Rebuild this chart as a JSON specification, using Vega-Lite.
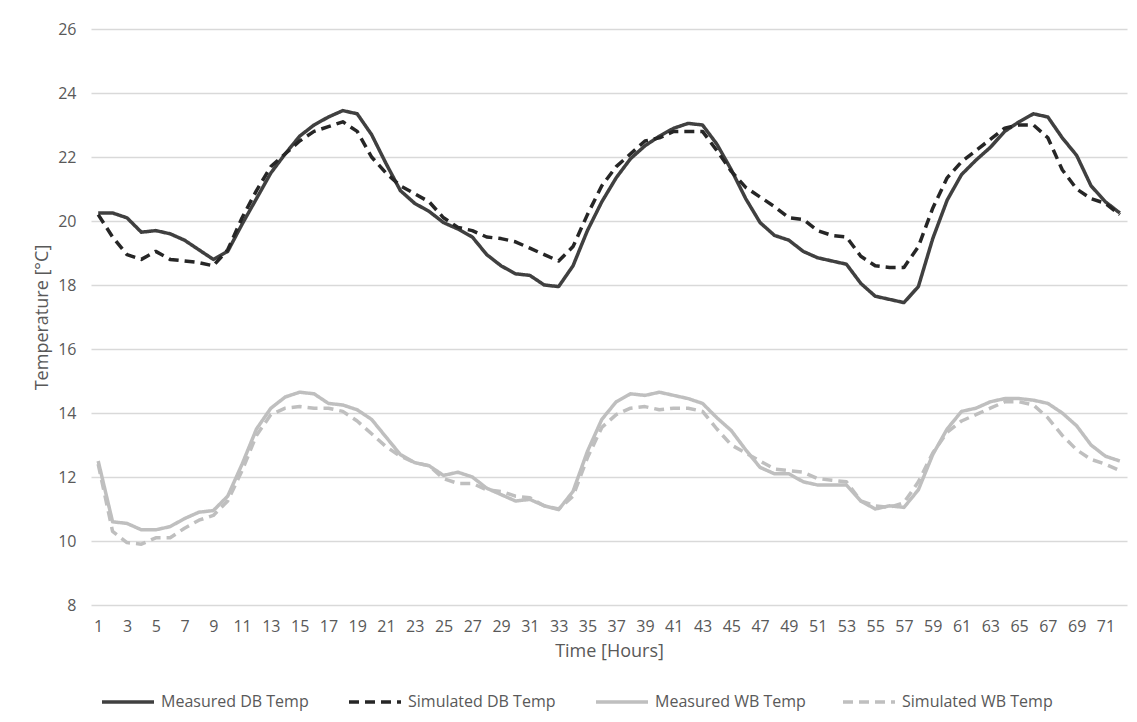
{
  "$schema": "https://vega.github.io/schema/vega-lite/v6.json",
  "width": 1036,
  "height": 576,
  "autosize": {"type": "none"},
  "padding": {"left": 91, "top": 29, "right": 10, "bottom": 117},
  "background": "white",
  "config": {
    "view": {"stroke": null},
    "font": "Open Sans",
    "axis": {"labelFont": "Open Sans", "titleFont": "Open Sans", "labelColor": "#595959", "titleColor": "#595959", "labelFontSize": 16, "titleFontSize": 18, "titleFontWeight": "normal", "ticks": false, "domain": false, "gridColor": "#d9d9d9", "gridWidth": 1.3},
    "legend": {"labelFont": "Open Sans", "labelFontSize": 16, "labelColor": "#595959", "orient": "none", "legendX": 9, "legendY": 645, "direction": "horizontal", "columns": 4, "gridAlign": "all", "columnPadding": 30, "symbolType": "stroke", "symbolSize": 2704, "symbolStrokeWidth": 3.5, "labelOffset": 5}
  },
  "data": {"values": [
    {"hour": 1, "Measured DB Temp": 20.25, "Simulated DB Temp": 20.2, "Measured WB Temp": 12.5, "Simulated WB Temp": 12.4},
    {"hour": 2, "Measured DB Temp": 20.25, "Simulated DB Temp": 19.5, "Measured WB Temp": 10.6, "Simulated WB Temp": 10.3},
    {"hour": 3, "Measured DB Temp": 20.1, "Simulated DB Temp": 18.95, "Measured WB Temp": 10.55, "Simulated WB Temp": 9.95},
    {"hour": 4, "Measured DB Temp": 19.65, "Simulated DB Temp": 18.8, "Measured WB Temp": 10.35, "Simulated WB Temp": 9.9},
    {"hour": 5, "Measured DB Temp": 19.7, "Simulated DB Temp": 19.05, "Measured WB Temp": 10.35, "Simulated WB Temp": 10.1},
    {"hour": 6, "Measured DB Temp": 19.6, "Simulated DB Temp": 18.8, "Measured WB Temp": 10.45, "Simulated WB Temp": 10.1},
    {"hour": 7, "Measured DB Temp": 19.4, "Simulated DB Temp": 18.75, "Measured WB Temp": 10.7, "Simulated WB Temp": 10.4},
    {"hour": 8, "Measured DB Temp": 19.1, "Simulated DB Temp": 18.7, "Measured WB Temp": 10.9, "Simulated WB Temp": 10.65},
    {"hour": 9, "Measured DB Temp": 18.8, "Simulated DB Temp": 18.6, "Measured WB Temp": 10.95, "Simulated WB Temp": 10.8},
    {"hour": 10, "Measured DB Temp": 19.05, "Simulated DB Temp": 19.1, "Measured WB Temp": 11.4, "Simulated WB Temp": 11.25},
    {"hour": 11, "Measured DB Temp": 19.9, "Simulated DB Temp": 20.1, "Measured WB Temp": 12.4, "Simulated WB Temp": 12.2},
    {"hour": 12, "Measured DB Temp": 20.7, "Simulated DB Temp": 20.95, "Measured WB Temp": 13.5, "Simulated WB Temp": 13.3},
    {"hour": 13, "Measured DB Temp": 21.5, "Simulated DB Temp": 21.7, "Measured WB Temp": 14.15, "Simulated WB Temp": 13.95},
    {"hour": 14, "Measured DB Temp": 22.1, "Simulated DB Temp": 22.1, "Measured WB Temp": 14.5, "Simulated WB Temp": 14.15},
    {"hour": 15, "Measured DB Temp": 22.65, "Simulated DB Temp": 22.5, "Measured WB Temp": 14.65, "Simulated WB Temp": 14.2},
    {"hour": 16, "Measured DB Temp": 23.0, "Simulated DB Temp": 22.8, "Measured WB Temp": 14.6, "Simulated WB Temp": 14.15},
    {"hour": 17, "Measured DB Temp": 23.25, "Simulated DB Temp": 22.95, "Measured WB Temp": 14.3, "Simulated WB Temp": 14.15},
    {"hour": 18, "Measured DB Temp": 23.45, "Simulated DB Temp": 23.1, "Measured WB Temp": 14.25, "Simulated WB Temp": 14.05},
    {"hour": 19, "Measured DB Temp": 23.35, "Simulated DB Temp": 22.8, "Measured WB Temp": 14.1, "Simulated WB Temp": 13.75},
    {"hour": 20, "Measured DB Temp": 22.7, "Simulated DB Temp": 22.0, "Measured WB Temp": 13.8, "Simulated WB Temp": 13.35},
    {"hour": 21, "Measured DB Temp": 21.8, "Simulated DB Temp": 21.5, "Measured WB Temp": 13.25, "Simulated WB Temp": 12.95},
    {"hour": 22, "Measured DB Temp": 20.95, "Simulated DB Temp": 21.1, "Measured WB Temp": 12.7, "Simulated WB Temp": 12.65},
    {"hour": 23, "Measured DB Temp": 20.55, "Simulated DB Temp": 20.85, "Measured WB Temp": 12.45, "Simulated WB Temp": 12.45},
    {"hour": 24, "Measured DB Temp": 20.3, "Simulated DB Temp": 20.6, "Measured WB Temp": 12.35, "Simulated WB Temp": 12.35},
    {"hour": 25, "Measured DB Temp": 19.95, "Simulated DB Temp": 20.1, "Measured WB Temp": 12.05, "Simulated WB Temp": 11.95},
    {"hour": 26, "Measured DB Temp": 19.75, "Simulated DB Temp": 19.8, "Measured WB Temp": 12.15, "Simulated WB Temp": 11.8},
    {"hour": 27, "Measured DB Temp": 19.5, "Simulated DB Temp": 19.7, "Measured WB Temp": 12.0, "Simulated WB Temp": 11.8},
    {"hour": 28, "Measured DB Temp": 18.95, "Simulated DB Temp": 19.5, "Measured WB Temp": 11.65, "Simulated WB Temp": 11.6},
    {"hour": 29, "Measured DB Temp": 18.6, "Simulated DB Temp": 19.45, "Measured WB Temp": 11.45, "Simulated WB Temp": 11.55},
    {"hour": 30, "Measured DB Temp": 18.35, "Simulated DB Temp": 19.35, "Measured WB Temp": 11.25, "Simulated WB Temp": 11.4},
    {"hour": 31, "Measured DB Temp": 18.3, "Simulated DB Temp": 19.15, "Measured WB Temp": 11.3, "Simulated WB Temp": 11.35},
    {"hour": 32, "Measured DB Temp": 18.0, "Simulated DB Temp": 18.95, "Measured WB Temp": 11.1, "Simulated WB Temp": 11.1},
    {"hour": 33, "Measured DB Temp": 17.95, "Simulated DB Temp": 18.75, "Measured WB Temp": 10.98, "Simulated WB Temp": 11.0},
    {"hour": 34, "Measured DB Temp": 18.6, "Simulated DB Temp": 19.2, "Measured WB Temp": 11.55, "Simulated WB Temp": 11.4},
    {"hour": 35, "Measured DB Temp": 19.7, "Simulated DB Temp": 20.2, "Measured WB Temp": 12.8, "Simulated WB Temp": 12.6},
    {"hour": 36, "Measured DB Temp": 20.6, "Simulated DB Temp": 21.1, "Measured WB Temp": 13.8, "Simulated WB Temp": 13.55},
    {"hour": 37, "Measured DB Temp": 21.35, "Simulated DB Temp": 21.7, "Measured WB Temp": 14.35, "Simulated WB Temp": 13.95},
    {"hour": 38, "Measured DB Temp": 21.95, "Simulated DB Temp": 22.1, "Measured WB Temp": 14.6, "Simulated WB Temp": 14.15},
    {"hour": 39, "Measured DB Temp": 22.35, "Simulated DB Temp": 22.5, "Measured WB Temp": 14.55, "Simulated WB Temp": 14.2},
    {"hour": 40, "Measured DB Temp": 22.65, "Simulated DB Temp": 22.6, "Measured WB Temp": 14.65, "Simulated WB Temp": 14.1},
    {"hour": 41, "Measured DB Temp": 22.9, "Simulated DB Temp": 22.8, "Measured WB Temp": 14.55, "Simulated WB Temp": 14.15},
    {"hour": 42, "Measured DB Temp": 23.05, "Simulated DB Temp": 22.8, "Measured WB Temp": 14.45, "Simulated WB Temp": 14.15},
    {"hour": 43, "Measured DB Temp": 23.0, "Simulated DB Temp": 22.8, "Measured WB Temp": 14.3, "Simulated WB Temp": 14.05},
    {"hour": 44, "Measured DB Temp": 22.4, "Simulated DB Temp": 22.2, "Measured WB Temp": 13.85, "Simulated WB Temp": 13.5},
    {"hour": 45, "Measured DB Temp": 21.6, "Simulated DB Temp": 21.55, "Measured WB Temp": 13.45, "Simulated WB Temp": 13.0},
    {"hour": 46, "Measured DB Temp": 20.7, "Simulated DB Temp": 21.05, "Measured WB Temp": 12.85, "Simulated WB Temp": 12.75},
    {"hour": 47, "Measured DB Temp": 19.95, "Simulated DB Temp": 20.75, "Measured WB Temp": 12.3, "Simulated WB Temp": 12.5},
    {"hour": 48, "Measured DB Temp": 19.55, "Simulated DB Temp": 20.45, "Measured WB Temp": 12.1, "Simulated WB Temp": 12.25},
    {"hour": 49, "Measured DB Temp": 19.4, "Simulated DB Temp": 20.1, "Measured WB Temp": 12.1, "Simulated WB Temp": 12.2},
    {"hour": 50, "Measured DB Temp": 19.05, "Simulated DB Temp": 20.05, "Measured WB Temp": 11.85, "Simulated WB Temp": 12.15},
    {"hour": 51, "Measured DB Temp": 18.85, "Simulated DB Temp": 19.7, "Measured WB Temp": 11.75, "Simulated WB Temp": 11.95},
    {"hour": 52, "Measured DB Temp": 18.75, "Simulated DB Temp": 19.55, "Measured WB Temp": 11.75, "Simulated WB Temp": 11.9},
    {"hour": 53, "Measured DB Temp": 18.65, "Simulated DB Temp": 19.5, "Measured WB Temp": 11.75, "Simulated WB Temp": 11.85},
    {"hour": 54, "Measured DB Temp": 18.05, "Simulated DB Temp": 18.9, "Measured WB Temp": 11.25, "Simulated WB Temp": 11.25},
    {"hour": 55, "Measured DB Temp": 17.65, "Simulated DB Temp": 18.6, "Measured WB Temp": 11.0, "Simulated WB Temp": 11.1},
    {"hour": 56, "Measured DB Temp": 17.55, "Simulated DB Temp": 18.55, "Measured WB Temp": 11.1, "Simulated WB Temp": 11.05},
    {"hour": 57, "Measured DB Temp": 17.45, "Simulated DB Temp": 18.55, "Measured WB Temp": 11.05, "Simulated WB Temp": 11.2},
    {"hour": 58, "Measured DB Temp": 17.95, "Simulated DB Temp": 19.2, "Measured WB Temp": 11.6, "Simulated WB Temp": 11.85},
    {"hour": 59, "Measured DB Temp": 19.45, "Simulated DB Temp": 20.4, "Measured WB Temp": 12.7, "Simulated WB Temp": 12.75},
    {"hour": 60, "Measured DB Temp": 20.65, "Simulated DB Temp": 21.35, "Measured WB Temp": 13.5, "Simulated WB Temp": 13.4},
    {"hour": 61, "Measured DB Temp": 21.45, "Simulated DB Temp": 21.85, "Measured WB Temp": 14.05, "Simulated WB Temp": 13.75},
    {"hour": 62, "Measured DB Temp": 21.9, "Simulated DB Temp": 22.2, "Measured WB Temp": 14.15, "Simulated WB Temp": 13.95},
    {"hour": 63, "Measured DB Temp": 22.3, "Simulated DB Temp": 22.55, "Measured WB Temp": 14.35, "Simulated WB Temp": 14.15},
    {"hour": 64, "Measured DB Temp": 22.8, "Simulated DB Temp": 22.9, "Measured WB Temp": 14.45, "Simulated WB Temp": 14.35},
    {"hour": 65, "Measured DB Temp": 23.1, "Simulated DB Temp": 23.0, "Measured WB Temp": 14.45, "Simulated WB Temp": 14.35},
    {"hour": 66, "Measured DB Temp": 23.35, "Simulated DB Temp": 23.0, "Measured WB Temp": 14.4, "Simulated WB Temp": 14.25},
    {"hour": 67, "Measured DB Temp": 23.25, "Simulated DB Temp": 22.6, "Measured WB Temp": 14.3, "Simulated WB Temp": 13.85},
    {"hour": 68, "Measured DB Temp": 22.6, "Simulated DB Temp": 21.6, "Measured WB Temp": 14.0, "Simulated WB Temp": 13.3},
    {"hour": 69, "Measured DB Temp": 22.05, "Simulated DB Temp": 21.0, "Measured WB Temp": 13.6, "Simulated WB Temp": 12.85},
    {"hour": 70, "Measured DB Temp": 21.1, "Simulated DB Temp": 20.7, "Measured WB Temp": 13.0, "Simulated WB Temp": 12.55},
    {"hour": 71, "Measured DB Temp": 20.6, "Simulated DB Temp": 20.55, "Measured WB Temp": 12.65, "Simulated WB Temp": 12.4},
    {"hour": 72, "Measured DB Temp": 20.25, "Simulated DB Temp": 20.2, "Measured WB Temp": 12.5, "Simulated WB Temp": 12.2}
  ]},
  "transform": [
    {"fold": ["Measured DB Temp", "Simulated DB Temp", "Measured WB Temp", "Simulated WB Temp"], "as": ["series", "temp"]}
  ],
  "mark": {"type": "line", "strokeWidth": 3.5, "strokeJoin": "round"},
  "encoding": {
    "x": {
      "field": "hour", "type": "quantitative",
      "scale": {"domain": [0.5, 72.5], "nice": false, "zero": false},
      "axis": {"values": [1,3,5,7,9,11,13,15,17,19,21,23,25,27,29,31,33,35,37,39,41,43,45,47,49,51,53,55,57,59,61,63,65,67,69,71], "grid": false, "title": "Time [Hours]", "labelPadding": 13, "titlePadding": 8, "labelFlush": false, "labelOverlap": false}
    },
    "y": {
      "field": "temp", "type": "quantitative",
      "scale": {"domain": [8, 26], "nice": false, "zero": false},
      "axis": {"values": [8,10,12,14,16,18,20,22,24,26], "grid": true, "title": "Temperature [°C]", "labelPadding": 15, "titlePadding": 6}
    },
    "color": {
      "field": "series", "type": "nominal",
      "scale": {"domain": ["Measured DB Temp", "Simulated DB Temp", "Measured WB Temp", "Simulated WB Temp"], "range": ["#404040", "#262626", "#bfbfbf", "#bfbfbf"]},
      "legend": {"title": null}
    },
    "strokeDash": {
      "field": "series", "type": "nominal",
      "scale": {"domain": ["Measured DB Temp", "Simulated DB Temp", "Measured WB Temp", "Simulated WB Temp"], "range": [[1, 0], [10, 6], [1, 0], [10, 6]]},
      "legend": {"title": null}
    }
  }
}
